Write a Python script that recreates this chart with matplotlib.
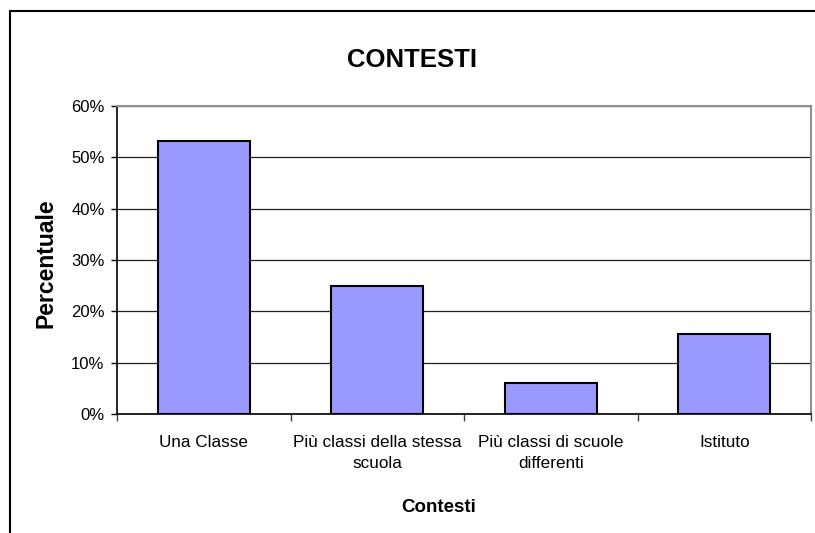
import matplotlib
matplotlib.use("Agg")
import matplotlib.pyplot as plt
from matplotlib.patches import Rectangle
import numpy as np

plt.rcParams['font.family'] = ['Liberation Sans', 'DejaVu Sans']

categories = ["Una Classe", "Più classi della stessa\nscuola",
              "Più classi di scuole\ndifferenti", "Istituto"]
values = [53.2, 25.0, 6.0, 15.5]
yticks = [0, 10, 20, 30, 40, 50, 60]
ytick_labels = ["0%", "10%", "20%", "30%", "40%", "50%", "60%"]

W, H = 815, 533
fig = plt.figure(figsize=(W / 100, H / 100), dpi=100)
fig.patch.set_facecolor("white")

# outer chart-area frame (runs off the right and bottom edges)
fig.patches.append(Rectangle((9.5 / W, -0.05), 1.2, 1 - 10.5 / H + 0.05,
                             transform=fig.transFigure, fill=False,
                             edgecolor="black", linewidth=1.5, zorder=0))

ax = fig.add_axes([117 / W, 1 - 414 / H, 694 / W, 308 / H])
x = np.arange(len(categories))
ax.bar(x, values, width=0.53, color="#9999FF", edgecolor="black",
       linewidth=1.5, zorder=3)

ax.set_xlim(-0.5, len(categories) - 0.5)
ax.set_ylim(0, 60)
ax.set_yticks(yticks)
ax.set_yticklabels(ytick_labels, fontsize=12)
ax.yaxis.grid(True, color="#202020", linewidth=0.9, zorder=0)
ax.set_axisbelow(True)

# category boundaries carry the tick marks, labels sit at the centres
ax.set_xticks(np.arange(-0.5, len(categories)), labels=[""] * (len(categories) + 1))
ax.set_xticks(x, labels=categories, minor=True)
ax.tick_params(axis="x", which="minor", length=0, pad=15, labelsize=12.3)
ax.tick_params(axis="x", which="major", length=5, width=1, color="#404040")
ax.tick_params(axis="y", length=4, width=1, color="black", pad=5)
for lab in ax.get_xticklabels(minor=True):
    lab.set_linespacing(1.5)

ax.spines["left"].set_color("black")
ax.spines["bottom"].set_color("black")
ax.spines["left"].set_linewidth(1.2)
ax.spines["bottom"].set_linewidth(1.2)
ax.spines["top"].set_color("#909090")
ax.spines["right"].set_color("#909090")
ax.spines["top"].set_linewidth(1.5)
ax.spines["right"].set_linewidth(1.5)

fig.text(412.5 / W, 1 - 60 / H, "CONTESTI", fontsize=18.5, fontweight="bold",
         ha="center", va="center")
fig.text(46 / W, 1 - 263 / H, "Percentuale", fontsize=16.5, fontweight="bold",
         ha="center", va="center", rotation=90)
fig.text(439 / W, 1 - 508 / H, "Contesti", fontsize=13.5, fontweight="bold",
         ha="center", va="center")

fig.savefig("out.png", dpi=100, facecolor="white")
